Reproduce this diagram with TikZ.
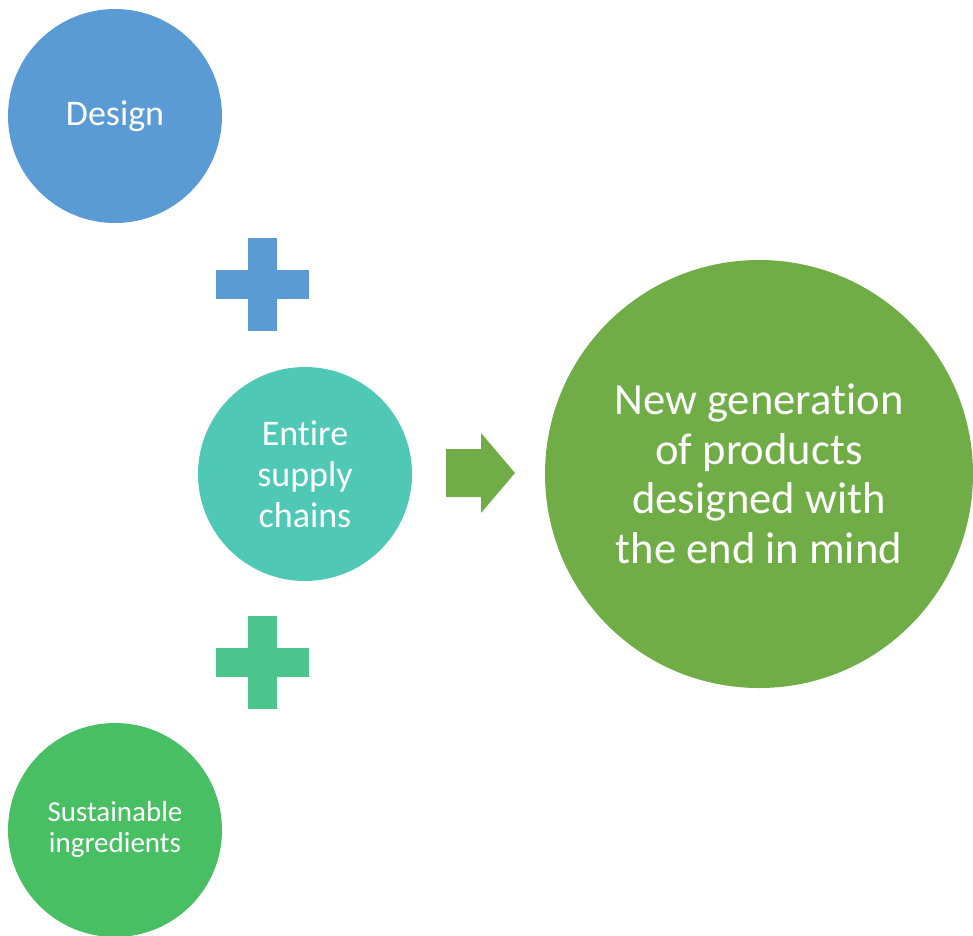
\documentclass[tikz,border=0pt]{standalone}
\usepackage{fontspec}
\setmainfont{Carlito}[Ligatures=NoCommon]
\usetikzlibrary{positioning,calc}

\definecolor{designblue}{HTML}{5B9BD5}
\definecolor{chainteal}{HTML}{4FC9B6}
\definecolor{plusgreen}{HTML}{4CC58C}
\definecolor{ingredgreen}{HTML}{49BF63}
\definecolor{productgreen}{HTML}{70AD47}

\newcommand{\plussign}[2]{% center, colour
	\fill[#2] ($(#1)+(-14.5,-46.5)$) rectangle ($(#1)+(14.5,46.5)$);
	\fill[#2] ($(#1)+(-46.5,-14.5)$) rectangle ($(#1)+(46.5,14.5)$);
}

\begin{document}
\begin{tikzpicture}[x=1pt,y=-1pt,
	bubble/.style={circle,inner sep=0pt,minimum size=214pt,text=white,align=center},
	bigbubble/.style={bubble,minimum size=428pt}]
	\useasboundingbox (0,0) rectangle (973,935);

	\node[bubble,fill=designblue,font=\fontsize{36}{41}\selectfont](design) at (115,116){\raisebox{-2pt}{Design}};
	\node[bubble,fill=chainteal,font=\fontsize{36}{41}\selectfont](chains) at (305,474){Entire\\supply\\chains};
	\node[bubble,fill=ingredgreen,font=\fontsize{29}{31.5}\selectfont](ingred) at (115,830){Sustainable\\ingredients\rule[-6pt]{0pt}{6pt}};
	\node[bigbubble,fill=productgreen,font=\fontsize{44.6}{49.5}\selectfont](products) at (759,474){New generation\\of products\\designed with\\the end in mind};

	\coordinate (plus_1) at (262,284);
	\coordinate (plus_2) at (262,662);
	\plussign{plus_1}{designblue}
	\plussign{plus_2}{plusgreen}

	% arrow to the products
	\coordinate (arr) at (446,473);
	\fill[productgreen] (arr) ++(0,-24) -- ++(35,0) -- ++(0,-16) -- (515,473)
		-- (481,513) -- ++(0,-16) -- (446,497) -- cycle;
\end{tikzpicture}
\end{document}
